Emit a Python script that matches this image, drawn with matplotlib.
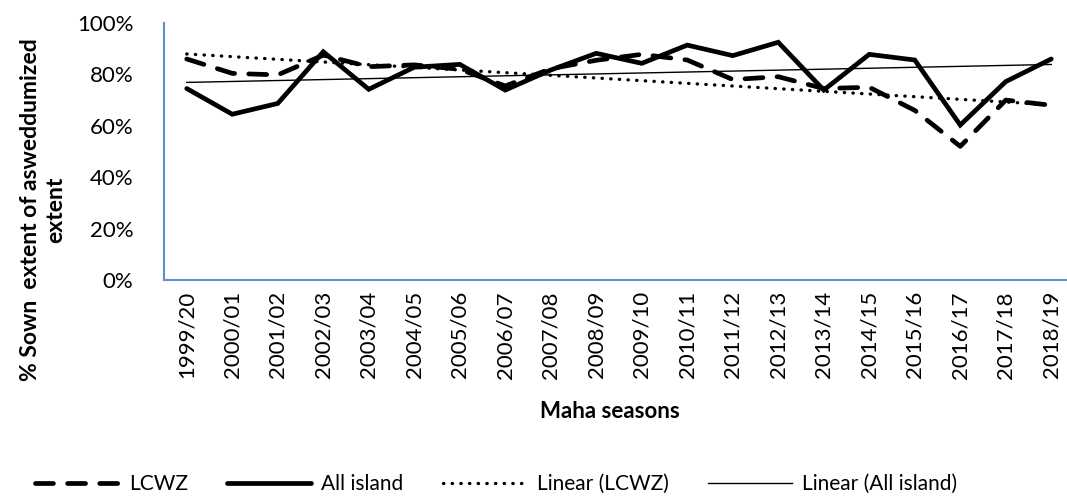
import numpy as np
import matplotlib
matplotlib.use("Agg")
import matplotlib.pyplot as plt
from matplotlib.ticker import PercentFormatter

seasons = ["1999/20", "2000/01", "2001/02", "2002/03", "2003/04", "2004/05", "2005/06",
           "2006/07", "2007/08", "2008/09", "2009/10", "2010/11", "2011/12", "2012/13",
           "2013/14", "2014/15", "2015/16", "2016/17", "2017/18", "2018/19"]
lcwz = [86.0, 80.4, 79.8, 87.5, 83.0, 83.7, 82.0, 75.5, 82.2, 85.5,
        87.8, 85.6, 78.0, 79.1, 74.5, 75.0, 66.0, 52.0, 70.0, 68.0]
all_island = [74.5, 64.5, 68.7, 88.8, 74.2, 82.8, 83.9, 73.9, 81.7, 88.2,
              84.3, 91.4, 87.3, 92.5, 73.9, 87.8, 85.6, 60.3, 77.2, 86.0]

plt.rcParams['font.family'] = ['Lato', 'DejaVu Sans']

fig = plt.figure(figsize=(10.67, 4.99), dpi=100)
ax = fig.add_axes([164/1067, 1-280/499, 910/1067, 257/499])

x = np.arange(len(seasons))
ax.plot(x, lcwz, color='black', lw=3.4, linestyle=(0, (3.8, 3.0)),
        dash_capstyle='round', solid_capstyle='round', label='LCWZ')
ax.plot(x, all_island, color='black', lw=3.4, solid_capstyle='round',
        solid_joinstyle='miter', label='All island')

p1 = np.polyfit(x, lcwz, 1)
p2 = np.polyfit(x, all_island, 1)
ax.plot(x, np.polyval(p1, x), color='black', lw=2.4, linestyle=(0, (0.1, 2.5)),
        dash_capstyle='round', label='Linear (LCWZ)')
ax.plot(x, np.polyval(p2, x), color='black', lw=1.0, label='Linear (All island)')

ax.set_xlim(-0.5, len(seasons) - 0.5)
ax.set_ylim(0, 100)
ax.set_yticks(np.arange(0, 101, 20))
ax.yaxis.set_major_formatter(PercentFormatter(decimals=0))
ax.set_xticks(x)
ax.set_xticklabels(seasons, rotation=90, fontsize=16)
ax.tick_params(axis='y', labelsize=16, length=0, pad=22)
ax.tick_params(axis='x', length=0, pad=8)

for s in ['top', 'right']:
    ax.spines[s].set_visible(False)
for s in ['left', 'bottom']:
    ax.spines[s].set_color('#5B8FD0')
    ax.spines[s].set_linewidth(1.5)

fig.text(610/1067, 1-411/499, 'Maha seasons', ha='center', va='center',
         fontsize=16, fontweight='bold')
fig.text(43/1067, 1-210/499, '% Sown  extent of asweddumized\nextent', ha='center',
         va='center', rotation=90, fontsize=16.5, fontweight='bold', linespacing=1.2)

fig.legend(loc='center', bbox_to_anchor=(0.465, 1-484/499), ncol=4, frameon=False,
           fontsize=15, handlelength=4.0, columnspacing=1.9, handletextpad=0.5)

fig.savefig('out.png', dpi=100)
